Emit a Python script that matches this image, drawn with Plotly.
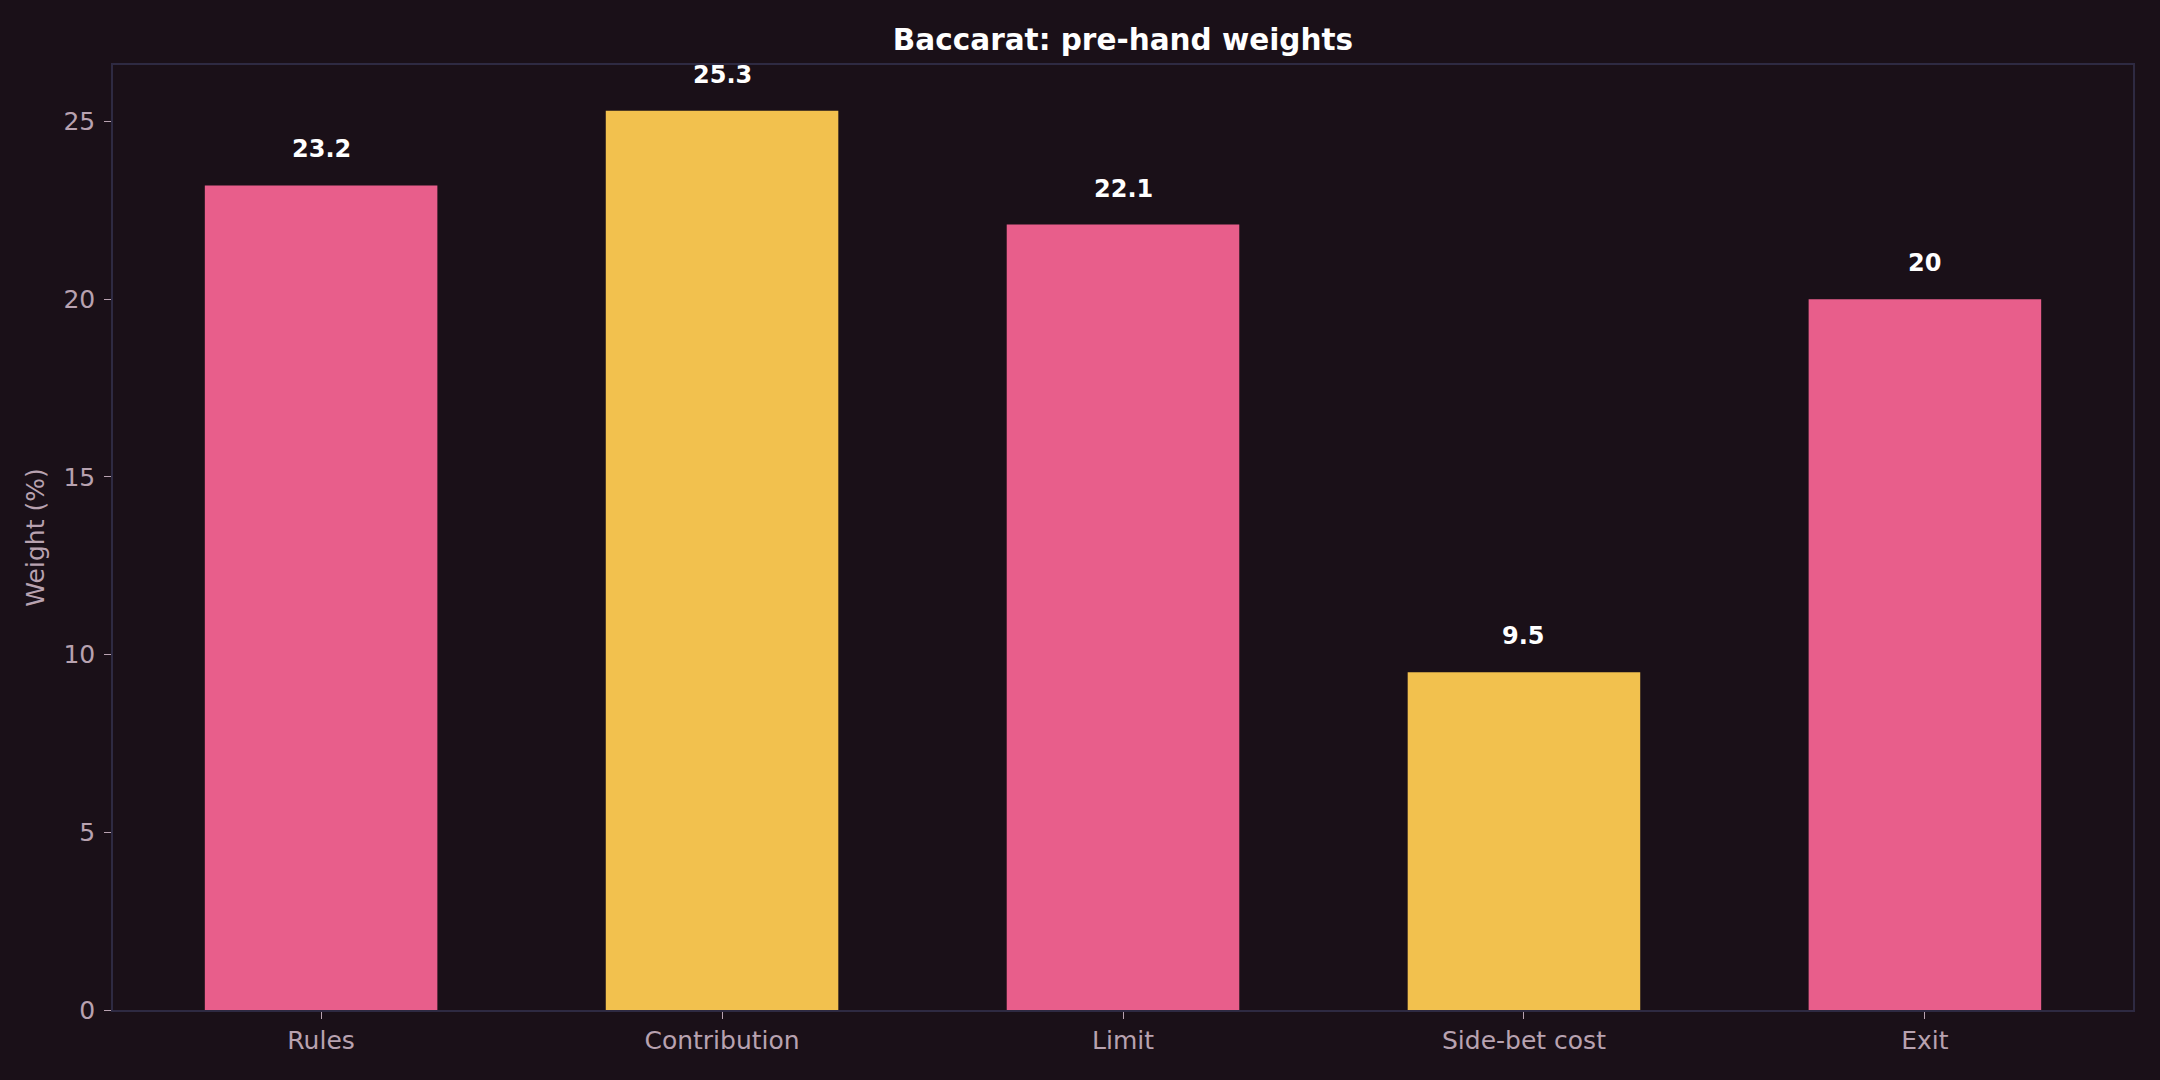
import plotly.graph_objects as go

# Chart data
categories = ['Rules', 'Contribution', 'Limit', 'Side-bet cost', 'Exit']
weights = [23.2, 25.3, 22.1, 9.5, 20]
bar_colors = ['#E85E8B', '#F2C14E', '#E85E8B', '#F2C14E', '#E85E8B']

bg = '#1A1018'
text_grey = '#B8A2B0'
frame = '#2E2A42'

fig = go.Figure()
fig.add_trace(
    go.Bar(
        x=list(range(len(categories))),
        y=weights,
        width=0.58,
        marker=dict(color=bar_colors, line=dict(width=0)),
        hoverinfo='skip',
        showlegend=False,
    )
)

# Value labels above each bar
for i, v in enumerate(weights):
    fig.add_annotation(
        x=i, y=v, text='<b>%g</b>' % v,
        showarrow=False, yanchor='bottom', yshift=20,
        font=dict(family='DejaVu Sans', size=24, color='#FFFFFF'),
    )

axis_common = dict(
    showgrid=False,
    zeroline=False,
    showline=True,
    linecolor=frame,
    linewidth=1.5,
    mirror=True,
    ticks='outside',
    ticklen=7,
    tickwidth=1.3,
    tickcolor=text_grey,
    tickfont=dict(family='DejaVu Sans', size=25, color=text_grey),
)

fig.update_layout(
    width=2160,
    height=1080,
    paper_bgcolor=bg,
    plot_bgcolor=bg,
    margin=dict(l=113, r=27, t=65, b=70),
    title=dict(
        text='<b>Baccarat: pre-hand weights</b>',
        xref='paper', x=0.5, xanchor='center',
        y=1 - 40 / 1080, yanchor='middle',
        font=dict(family='DejaVu Sans', size=29.5, color='#FFFFFF'),
    ),
    xaxis=dict(
        axis_common,
        range=[-0.519, 4.519],
        tickmode='array',
        tickvals=list(range(len(categories))),
        ticktext=categories,
    ),
    yaxis=dict(
        axis_common,
        range=[0, 26.59],
        tickmode='array',
        tickvals=[0, 5, 10, 15, 20, 25],
        ticklabelstandoff=4,
        title=dict(text='Weight (%)', standoff=12,
                   font=dict(family='DejaVu Sans', size=25, color=text_grey)),
    ),
)

fig.write_html(
    'out.html',
    config={'displayModeBar': False},
    post_script="document.body.style.margin='0';"
                "document.body.style.background='#1A1018';",
)
